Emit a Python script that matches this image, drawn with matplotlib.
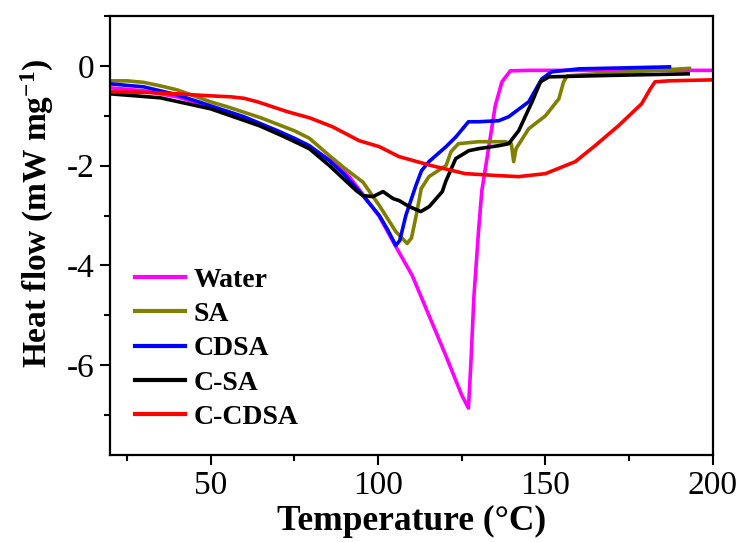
import numpy as np
import matplotlib
matplotlib.use('Agg')
import matplotlib.pyplot as plt
from matplotlib.ticker import MultipleLocator

# values
water_t = [20, 30, 40, 50, 60, 70, 79.5, 86.4, 91.4, 95.5, 100.4, 105.3, 110.2, 115.2,
           120.2, 125, 127, 127.7, 128.6, 130, 131, 133, 135, 137, 139.5, 145, 200]
water_hf = [-0.44, -0.5, -0.62, -0.82, -1.05, -1.33, -1.62, -1.92, -2.22, -2.58, -3.02, -3.62,
            -4.2, -5.0, -5.8, -6.6, -6.86, -6.0, -4.66, -3.32, -2.5, -1.66, -0.8, -0.32,
            -0.1, -0.09, -0.09]

sa_t = [20, 25, 30, 35, 40, 45, 50, 55, 60, 65, 70, 75, 79.5, 85.5, 90, 95.5, 100.4, 105.3,
        108.7, 110, 111.4, 112.9, 115.2, 120.3, 121.8, 124, 130, 138, 139.8, 140.5, 141.2,
        145, 150, 154, 155.4, 156.5, 165, 193]
sa_hf = [-0.3, -0.3, -0.33, -0.4, -0.48, -0.6, -0.72, -0.82, -0.93, -1.04, -1.17, -1.3,
         -1.45, -1.8, -2.05, -2.33, -2.8, -3.32, -3.56, -3.45, -3.0, -2.46, -2.22, -2.0,
         -1.72, -1.56, -1.52, -1.52, -1.56, -1.92, -1.66, -1.26, -1.0, -0.66, -0.32, -0.2,
         -0.16, -0.05]

cdsa_t = [20, 30, 40, 50, 60, 70, 75, 79.5, 85.5, 90, 95.5, 100.4, 103, 105.3, 106.5, 108.3,
          111.3, 113, 115.2, 120.3, 123.3, 127, 130, 136, 139, 145, 148.9, 151.8, 160, 187]
cdsa_hf = [-0.36, -0.42, -0.58, -0.8, -1.02, -1.3, -1.45, -1.6, -1.9, -2.18, -2.6, -3.0, -3.3,
           -3.6, -3.5, -3.0, -2.4, -2.1, -1.92, -1.62, -1.42, -1.12, -1.12, -1.1, -1.02,
           -0.72, -0.26, -0.12, -0.06, -0.02]

csa_t = [20, 35, 50, 64.6, 72, 79.5, 85.5, 93.5, 95.5, 98.5, 101.5, 104.5, 106.3, 109.3,
         112.8, 115.3, 119.2, 120.2, 123.2, 127.1, 130, 136, 139, 142, 146, 148.5, 151, 170,
         192.6]
csa_hf = [-0.56, -0.64, -0.86, -1.2, -1.42, -1.66, -2.0, -2.5, -2.6, -2.62, -2.52, -2.66,
          -2.7, -2.82, -2.92, -2.82, -2.52, -2.32, -1.86, -1.7, -1.66, -1.6, -1.56, -1.3,
          -0.72, -0.32, -0.22, -0.19, -0.16]

ccdsa_t = [20, 30, 40, 49.8, 56, 60, 64, 67.6, 73, 79.5, 86.4, 94.4, 100.4, 106.3, 116, 126,
           136, 142, 150, 158.9, 164.8, 171.8, 178.7, 181.3, 182.7, 186.7, 200]
ccdsa_hf = [-0.52, -0.53, -0.56, -0.6, -0.62, -0.65, -0.72, -0.8, -0.92, -1.04, -1.22, -1.5,
            -1.62, -1.82, -2.0, -2.16, -2.2, -2.22, -2.16, -1.92, -1.6, -1.2, -0.76, -0.46,
            -0.32, -0.3, -0.28]

series = [
    ('Water', water_t, water_hf, '#FF00FF'),
    ('SA', sa_t, sa_hf, '#808000'),
    ('CDSA', cdsa_t, cdsa_hf, '#0000FF'),
    ('C-SA', csa_t, csa_hf, '#000000'),
    ('C-CDSA', ccdsa_t, ccdsa_hf, '#FF0000'),
]

plt.rcParams['font.family'] = ['Liberation Serif', 'DejaVu Serif']
plt.rcParams['mathtext.default'] = 'regular'
plt.rcParams['axes.unicode_minus'] = False

fig = plt.figure(figsize=(7.45, 5.42), dpi=100)
ax = fig.add_axes([0.1477, 0.1605, 0.8093, 0.81])

for name, t, hf, c in series:
    ax.plot(t, hf, color=c, lw=2.6, label=name, solid_joinstyle='round')

ax.set_xlim(20, 200)
ax.set_ylim(-7.8, 1)
ax.xaxis.set_major_locator(MultipleLocator(50))
ax.xaxis.set_minor_locator(MultipleLocator(25))
ax.yaxis.set_major_locator(MultipleLocator(2))
ax.yaxis.set_minor_locator(MultipleLocator(1))
ax.tick_params(which='both', direction='out', width=1.5, labelsize=24)
ax.tick_params(which='major', length=7, pad=4)
ax.tick_params(which='minor', length=4.5)
for s in ax.spines.values():
    s.set_linewidth(1.6)

ax.set_xlabel('Temperature (°C)', fontsize=25.5, fontweight='bold', labelpad=3)
ax.set_ylabel('Heat flow (mW mg$^{-1}$)', fontsize=24, fontweight='bold')
ax.yaxis.set_label_coords(-0.09, 0.55)

leg = ax.legend(loc='lower left', bbox_to_anchor=(0.0, 0.0), frameon=False,
                prop={'size': 20, 'weight': 'bold'}, handlelength=1.8,
                handletextpad=0.3, labelspacing=0.32)
for line in leg.get_lines():
    line.set_linewidth(3)

fig.savefig('out.png', dpi=100)
